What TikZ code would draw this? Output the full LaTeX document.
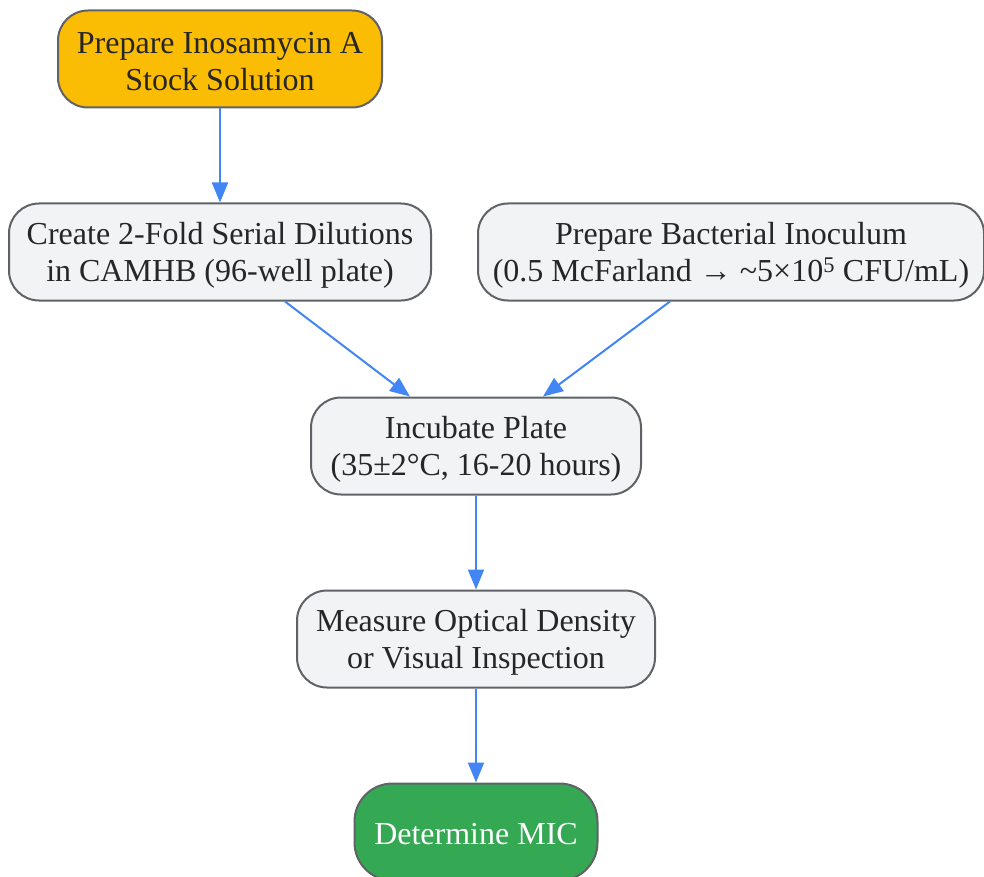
\documentclass[tikz,border=0pt]{standalone}
\usepackage{fontspec}
\setmainfont{Liberation Serif}
\usetikzlibrary{arrows.meta,calc}
\definecolor{boxgray}{HTML}{F1F3F4}
\definecolor{edgegray}{HTML}{5F6368}
\definecolor{startyellow}{HTML}{FBBC04}
\definecolor{endgreen}{HTML}{34A853}
\definecolor{arrowblue}{HTML}{4285F4}
\begin{document}
\begin{tikzpicture}[x=1pt,y=-1pt,
  box/.style={draw=edgegray,line width=2pt,fill=boxgray,rounded corners=30pt,
    inner sep=0pt,minimum height=97pt},
  txt/.style={align=center,font=\fontsize{32}{37}\selectfont,text=black!85,inner sep=0pt},
  flow/.style={draw=arrowblue,line width=2pt,-{Triangle[length=20pt,width=16pt]}}]
\useasboundingbox (0,0) rectangle (984,877);
\node[box,fill=startyellow,minimum width=324pt] (prep) at (220,59) {};
\node[box,minimum width=422pt] (dil) at (220,252) {};
\node[box,minimum width=506pt] (inoc) at (731,252) {};
\node[box,minimum width=330pt] (inc) at (476,446) {};
\node[box,minimum width=358pt] (meas) at (476,639) {};
\node[box,fill=endgreen,minimum width=243pt,rounded corners=38pt] (mic) at (476,832) {};
\node[txt] (prept) at ([yshift=-3pt]prep.center) {Prepare Inosamycin A\\Stock Solution};
\node[txt] (dilt) at ([yshift=-3pt]dil.center) {Create 2-Fold Serial Dilutions\\in CAMHB (96-well plate)};
\node[txt] (inoct) at ([yshift=-3pt]inoc.center) {Prepare Bacterial Inoculum\\(0.5 McFarland → \textasciitilde5×10\textsuperscript{5} CFU/mL)};
\node[txt] (inct) at ([yshift=-3pt]inc.center) {Incubate Plate\\(35±2°C, 16-20 hours)};
\node[txt] (meast) at ([yshift=-3pt]meas.center) {Measure Optical Density\\or Visual Inspection};
\node[txt,text=white] (mict) at ([yshift=-2pt]mic.center) {Determine MIC};
\draw[flow] (prep.south) -- (dil.north);
\draw[flow] ($(dil.south)+(65,0)$) -- ($(inc.north)+(-66,0)$);
\draw[flow] ($(inoc.south)+(-61,0)$) -- ($(inc.north)+(67,0)$);
\draw[flow] (inc.south) -- (meas.north);
\draw[flow] (meas.south) -- (mic.north);
\end{tikzpicture}
\end{document}
